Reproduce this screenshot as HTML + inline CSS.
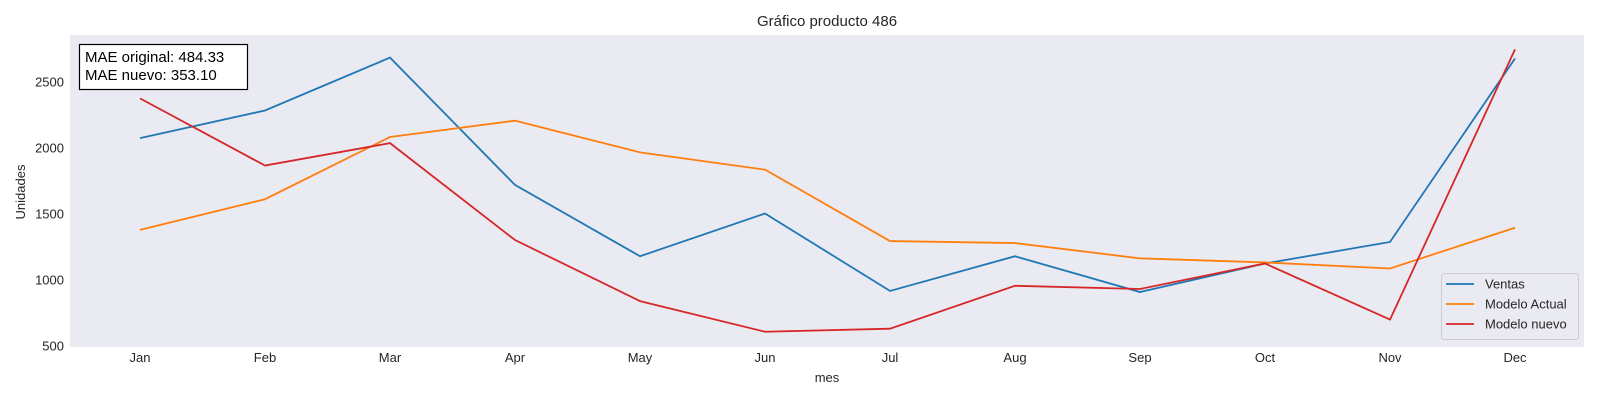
<!DOCTYPE html>
<html><head><meta charset="utf-8"><style>
body{margin:0;background:#fff;}
svg{font-family:"Liberation Sans","DejaVu Sans",sans-serif;}
</style></head><body>
<svg id="chart" width="1600" height="400">
<rect x="70" y="35" width="1514" height="312" fill="#eaeaf2"/>
<g id="yticks"></g><g id="xticks"></g><g id="series"></g>
<text x="827" y="26" text-anchor="middle" font-size="15" fill="#262626">Gráfico producto 486</text>
<text x="827" y="382" text-anchor="middle" font-size="13" fill="#262626">mes</text>
<text transform="translate(25,192) rotate(-90)" text-anchor="middle" font-size="13" fill="#262626">Unidades</text>
<g>
<rect x="79.5" y="44.5" width="168" height="45" fill="#fff" stroke="#000" stroke-width="1.2"/>
<text x="85" y="62" font-size="15" fill="#000">MAE original: 484.33</text>
<text x="85" y="80" font-size="15" fill="#000">MAE nuevo: 353.10</text>
</g>
<g id="legend">
<rect x="1441.5" y="273.5" width="137" height="66" rx="3" fill="#eaeaf2" fill-opacity="0.8" stroke="#ccc"/>
</g>
</svg>
<script>
const months=["Jan","Feb","Mar","Apr","May","Jun","Jul","Aug","Sep","Oct","Nov","Dec"];
const ventas=[2075,2284,2685,1720,1180,1504,917,1180,909,1125,1288,2678];
const modeloActual=[1380,1612,2083,2207,1967,1836,1295,1280,1164,1133,1087,1396];
const modeloNuevo=[2376,1867,2037,1303,840,608,631,956,932,1125,700,2747];
const yTicks=[500,1000,1500,2000,2500];
const seriesNames=["Ventas","Modelo Actual","Modelo nuevo"];
const colors=["#1f77b4","#ff7f0e","#d62728"];
const NS="http://www.w3.org/2000/svg";
function x(i){return 140+i*(1515-140)/(months.length-1);}
function y(v){return 346-(v-500)*0.132;}
function mk(t,a,p){const e=document.createElementNS(NS,t);for(const k in a)e.setAttribute(k,a[k]);p.appendChild(e);return e;}
const yg=document.getElementById('yticks');
yTicks.forEach(v=>{const t=mk('text',{x:64,y:y(v)+4.5,'text-anchor':'end','font-size':13,fill:'#262626'},yg);t.textContent=v;

});
const xg=document.getElementById('xticks');
months.forEach((m,i)=>{const t=mk('text',{x:x(i),y:362,'text-anchor':'middle','font-size':13,fill:'#262626'},xg);t.textContent=m;

});
const sg=document.getElementById('series');
[ventas,modeloActual,modeloNuevo].forEach((d,k)=>{
const p=mk('polyline',{points:d.map((v,i)=>x(i)+','+y(v)).join(' '),fill:'none',stroke:colors[k],'stroke-width':1.8},sg);

});
const lg=document.getElementById('legend');
seriesNames.forEach((n,k)=>{const yy=284+k*20;
const l=mk('line',{x1:1446,x2:1474,y1:yy,y2:yy,stroke:colors[k],'stroke-width':1.8},lg);


const t=mk('text',{x:1485,y:yy+4.5,'font-size':13,fill:'#262626'},lg);t.textContent=n;

});
</script>
</body></html>
